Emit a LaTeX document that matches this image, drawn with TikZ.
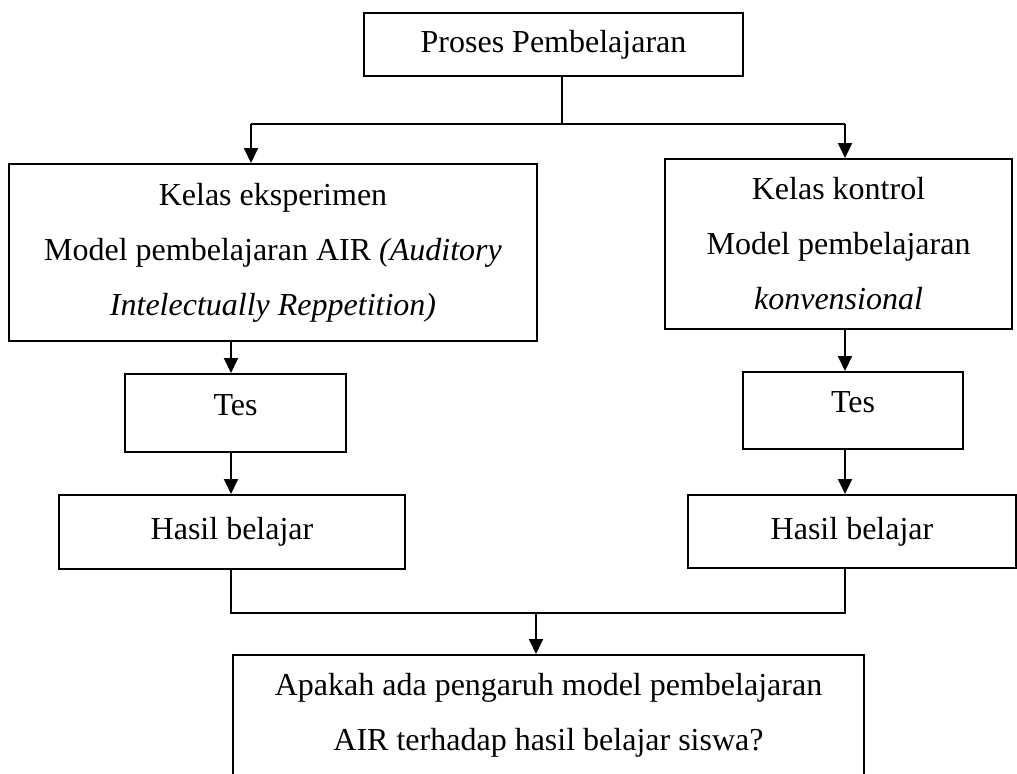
\documentclass[tikz,border=0pt]{standalone}
\usepackage{fontspec}
\setmainfont{Liberation Serif}
\usetikzlibrary{arrows.meta}

\begin{document}
\begin{tikzpicture}[x=0.4pt,y=0.4pt,yscale=-1,
    kotak/.style={draw,line width=0.8pt,align=center,inner sep=0pt,font=\fontsize{12.8}{22}\selectfont},
    panah/.style={line width=0.8pt,-{Triangle[length=6pt,width=5.6pt]}},
    garis/.style={line width=0.8pt}]
\useasboundingbox (0,0) rectangle (1017,773);
\clip (0,0) rectangle (1017,773);

% Kotak atas
\node [kotak,minimum width=151.6pt,minimum height=25.2pt] (proses) at (553.5,44.5) {Proses Pembelajaran};
% Kelas eksperimen
\node [kotak,minimum width=211.2pt,minimum height=70.8pt] (eksp) at (273,252.5) {Kelas eksperimen\\Model pembelajaran AIR \textit{(Auditory}\\\textit{Intelectually Reppetition)}};
% Kelas kontrol
\node [kotak,minimum width=138.8pt,minimum height=68pt] (kontrol) at (838.5,244) {Kelas kontrol\\Model pembelajaran\\\textit{konvensional}};
% Tes
\node [kotak,minimum width=88.4pt,minimum height=31.2pt,text depth=6.4pt] (tesA) at (235.5,413) {Tes};
\node [kotak,minimum width=88pt,minimum height=30.8pt,text depth=6.4pt] (tesB) at (853,410.5) {Tes};
% Hasil belajar
\node [kotak,minimum width=138.4pt,minimum height=29.6pt] (hasilA) at (232,532) {Hasil belajar};
\node [kotak,minimum width=131.2pt,minimum height=29.2pt] (hasilB) at (852,531.5) {Hasil belajar};
% Pertanyaan
\node [kotak,minimum width=252.4pt,minimum height=60pt,text depth=14.6pt] (tanya) at (548.5,730) {Apakah ada pengaruh model pembelajaran\\AIR terhadap hasil belajar siswa?};

% Titik cabang
\coordinate (cabang) at (562,124);
\coordinate (kiri) at (251,124);
\coordinate (kanan) at (845,124);
\coordinate (kiriBawah) at (231,613);
\coordinate (kananBawah) at (845,613);
\coordinate (tengah) at (536,613);

% Garis
\draw [garis] (proses.south -| cabang) -- (cabang);
\draw [garis] (kiri) -- (kanan);
\draw [panah] (kiri) -- (kiri |- eksp.north);
\draw [panah] (kanan) -- (kanan |- kontrol.north);
\draw [panah] (eksp.south -| kiriBawah) -- (tesA.north -| kiriBawah);
\draw [panah] (tesA.south -| kiriBawah) -- (hasilA.north -| kiriBawah);
\draw [panah] (kontrol.south -| kananBawah) -- (tesB.north -| kananBawah);
\draw [panah] (tesB.south -| kananBawah) -- (hasilB.north -| kananBawah);
\draw [garis] (hasilA.south -| kiriBawah) -- (kiriBawah) -- (kananBawah) -- (hasilB.south -| kananBawah);
\draw [panah] (tengah) -- (tengah |- tanya.north);
\end{tikzpicture}
\end{document}
